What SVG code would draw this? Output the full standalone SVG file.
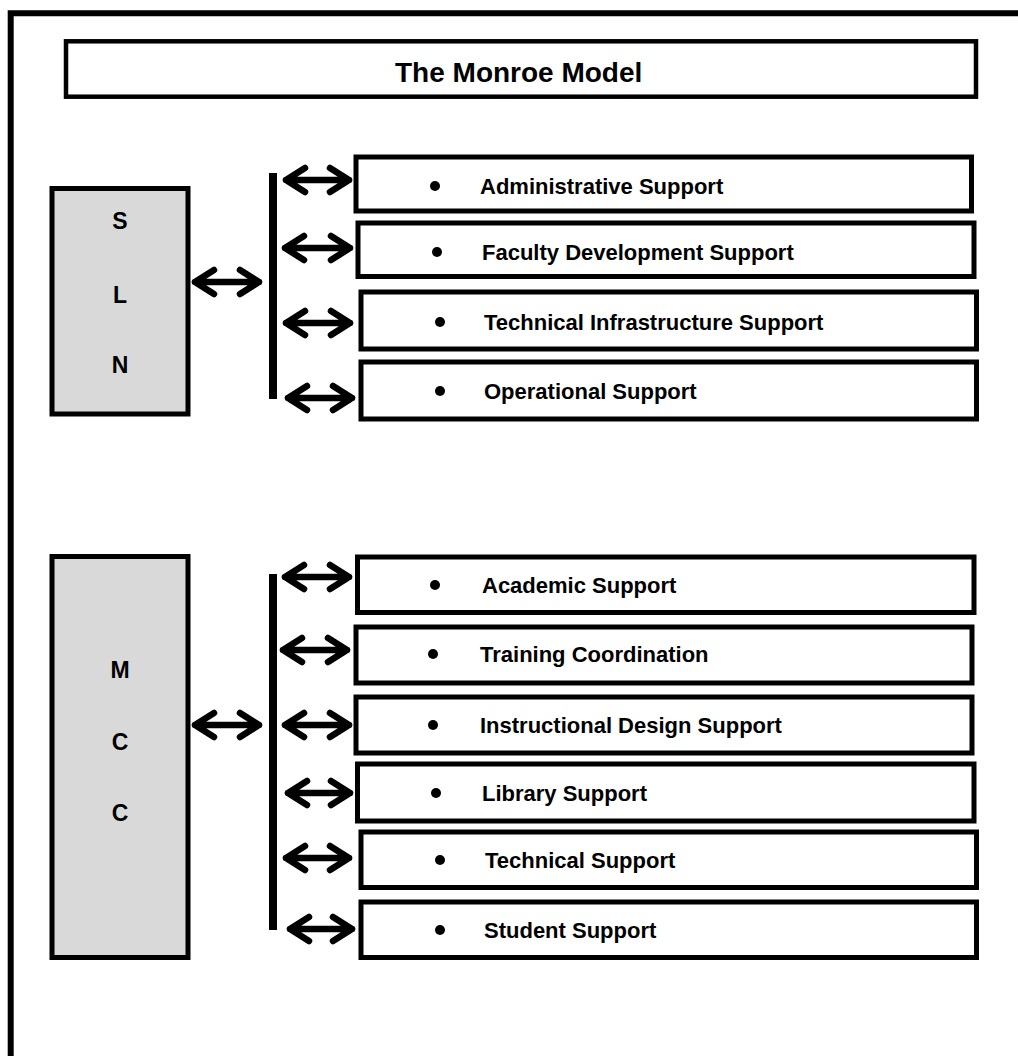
<svg xmlns="http://www.w3.org/2000/svg" width="1018" height="1056" viewBox="0 0 1018 1056">
  <defs>
    <style>
      .frame { fill: none; stroke: #000; stroke-width: 6; }
      .title-box { fill: #fff; stroke: #000; stroke-width: 4.5; }
      .org { fill: #d9d9d9; stroke: #000; stroke-width: 5; }
      .item { fill: #fff; stroke: #000; stroke-width: 5; }
      .bar { fill: #000; }
      .arrow { fill: none; stroke: #000; stroke-width: 6.5; stroke-linecap: round; stroke-linejoin: round; }
      .label { font-family: "Liberation Sans", Arial, sans-serif; font-weight: bold; font-size: 22px; fill: #000; }
      .title { font-family: "Liberation Sans", Arial, sans-serif; font-weight: bold; font-size: 28px; fill: #000; }
      .letter { font-family: "Liberation Sans", Arial, sans-serif; font-weight: bold; font-size: 23px; fill: #000; text-anchor: middle; }
      .bullet { fill: #000; }
    </style>
  </defs>

  <rect width="1018" height="1056" fill="#fff"/>

  <!-- page frame (open at right and bottom) -->
  <path class="frame" d="M10.7 1056 V13.3 H1018"/>

  <g id="title">
    <rect class="title-box" x="66" y="41.3" width="910" height="55.4"/>
    <text class="title" x="395" y="82">The Monroe Model</text>
  </g>

  <!-- SLN block -->
  <g id="sln">
    <rect class="org" x="52" y="188.5" width="136" height="225.5"/>
    <text class="letter" x="120" y="229">S</text>
    <text class="letter" x="120" y="303">L</text>
    <text class="letter" x="120" y="373">N</text>
  </g>

  <g id="sln-admin">
    <rect class="item" x="356" y="157" width="615.5" height="54"/>
    <circle class="bullet" cx="435" cy="186" r="5"/>
    <text class="label" x="480" y="194">Administrative Support</text>
  </g>
  <g id="sln-faculty">
    <rect class="item" x="358" y="223" width="616" height="53.5"/>
    <circle class="bullet" cx="437" cy="252" r="5"/>
    <text class="label" x="482" y="260">Faculty Development Support</text>
  </g>
  <g id="sln-technical">
    <rect class="item" x="361" y="292" width="615.5" height="57"/>
    <circle class="bullet" cx="440" cy="322" r="5"/>
    <text class="label" x="484" y="330">Technical Infrastructure Support</text>
  </g>
  <g id="sln-operational">
    <rect class="item" x="361" y="362" width="615.5" height="57"/>
    <circle class="bullet" cx="440" cy="391" r="5"/>
    <text class="label" x="484" y="399">Operational Support</text>
  </g>

  <!-- MCC block -->
  <g id="mcc">
    <rect class="org" x="52" y="556.5" width="136" height="401"/>
    <text class="letter" x="120" y="678">M</text>
    <text class="letter" x="120" y="750">C</text>
    <text class="letter" x="120" y="821">C</text>
  </g>

  <g id="mcc-academic">
    <rect class="item" x="357.5" y="557" width="616.5" height="55.5"/>
    <circle class="bullet" cx="435" cy="585" r="5"/>
    <text class="label" x="482" y="593">Academic Support</text>
  </g>
  <g id="mcc-training">
    <rect class="item" x="356" y="627" width="616" height="56"/>
    <circle class="bullet" cx="433" cy="654" r="5"/>
    <text class="label" x="480" y="662">Training Coordination</text>
  </g>
  <g id="mcc-design">
    <rect class="item" x="356" y="697" width="616" height="56"/>
    <circle class="bullet" cx="433" cy="725" r="5"/>
    <text class="label" x="480" y="733">Instructional Design Support</text>
  </g>
  <g id="mcc-library">
    <rect class="item" x="357.5" y="764" width="616.5" height="57"/>
    <circle class="bullet" cx="436" cy="793" r="5"/>
    <text class="label" x="482" y="801">Library Support</text>
  </g>
  <g id="mcc-technical">
    <rect class="item" x="361" y="832" width="615.5" height="55.5"/>
    <circle class="bullet" cx="440" cy="860" r="5"/>
    <text class="label" x="485" y="868">Technical Support</text>
  </g>
  <g id="mcc-student">
    <rect class="item" x="361" y="902" width="615.5" height="55.5"/>
    <circle class="bullet" cx="440" cy="930" r="5"/>
    <text class="label" x="484" y="938">Student Support</text>
  </g>

  <!-- connectors: vertical bus bars and double-headed arrows -->
  <g id="connectors">
    <rect class="bar" x="269" y="173" width="8" height="226"/>
    <rect class="bar" x="269" y="574" width="8" height="356"/>

    <!-- SLN -->
    <path class="arrow" d="M195 282 H259 M214 270 L195 282 L214 294 M240 270 L259 282 L240 294"/>
    <path class="arrow" d="M286 180 H349 M305 168 L286 180 L305 192 M330 168 L349 180 L330 192"/>
    <path class="arrow" d="M285 248 H350 M304 236 L285 248 L304 260 M331 236 L350 248 L331 260"/>
    <path class="arrow" d="M286 323 H350 M305 311 L286 323 L305 335 M331 311 L350 323 L331 335"/>
    <path class="arrow" d="M288 398 H352 M307 386 L288 398 L307 410 M333 386 L352 398 L333 410"/>

    <!-- MCC -->
    <path class="arrow" d="M195 725 H259 M214 713 L195 725 L214 737 M240 713 L259 725 L240 737"/>
    <path class="arrow" d="M285 577 H349 M304 565 L285 577 L304 589 M330 565 L349 577 L330 589"/>
    <path class="arrow" d="M283 650 H347 M302 638 L283 650 L302 662 M328 638 L347 650 L328 662"/>
    <path class="arrow" d="M285 725 H349 M304 713 L285 725 L304 737 M330 713 L349 725 L330 737"/>
    <path class="arrow" d="M288 793 H350 M307 781 L288 793 L307 805 M331 781 L350 793 L331 805"/>
    <path class="arrow" d="M286 858 H349 M305 846 L286 858 L305 870 M330 846 L349 858 L330 870"/>
    <path class="arrow" d="M290 929 H352 M309 917 L290 929 L309 941 M333 917 L352 929 L333 941"/>
  </g>
</svg>
